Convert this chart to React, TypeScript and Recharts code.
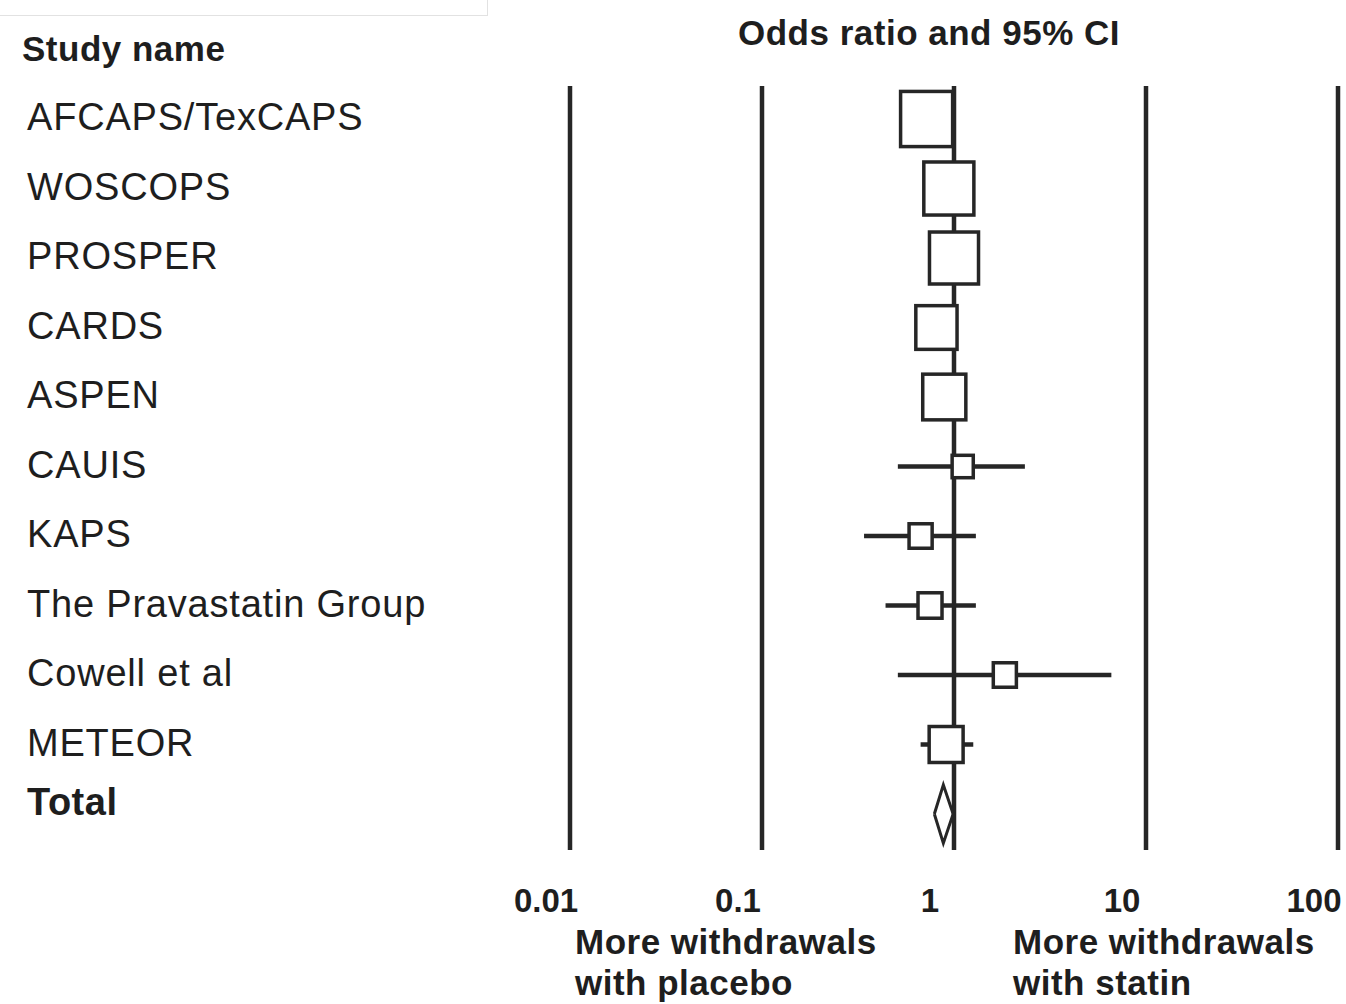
import React from 'react'
import {
  ScatterChart,
  Scatter,
  XAxis,
  YAxis,
  ErrorBar,
  ReferenceLine,
} from 'recharts'

const studies = [
  'AFCAPS/TexCAPS',
  'WOSCOPS',
  'PROSPER',
  'CARDS',
  'ASPEN',
  'CAUIS',
  'KAPS',
  'The Pravastatin Group',
  'Cowell et al',
  'METEOR',
]
const oddsRatios = [0.72, 0.94, 1.0, 0.81, 0.89, 1.11, 0.67, 0.75, 1.84, 0.91]
const lowerCI = [0.6, 0.8, 0.85, 0.66, 0.73, 0.51, 0.34, 0.44, 0.51, 0.67]
const upperCI = [0.86, 1.1, 1.18, 1.0, 1.1, 2.34, 1.3, 1.3, 6.6, 1.26]
// relative weights (%), drive the box size
const weights = [18.8, 17.4, 16.7, 11.8, 12.9, 3.1, 3.7, 4.0, 3.7, 8.0]

const totalOR = 0.88
const totalLower = 0.79
const totalUpper = 0.99

const xTicks = [0.01, 0.1, 1, 10, 100]
const xTickLabels = ['0.01', '0.1', '1', '10', '100']

const rowLabels = [...studies, 'Total']

const INK = '#262626'
const FONT = '"Liberation Sans", Arial, Helvetica, sans-serif'

const studyData = studies.map((name, i) => ({
  name,
  row: i,
  or: oddsRatios[i],
  err: [oddsRatios[i] - lowerCI[i], upperCI[i] - oddsRatios[i]],
  weight: weights[i],
}))

const totalRow = studies.length
const diamondData = [
  { or: totalLower, row: totalRow },
  { or: totalOR, row: totalRow - 0.42 },
  { or: totalUpper, row: totalRow },
  { or: totalOR, row: totalRow + 0.42 },
  { or: totalLower, row: totalRow },
]

const BoxShape = (props: any) => {
  const { cx, cy, payload } = props
  if (cx == null || cy == null) return <g />
  const s = 12 * Math.sqrt(payload.weight)
  const h = s * 1.06
  return (
    <rect
      x={cx - s / 2}
      y={cy - h / 2}
      width={s}
      height={h}
      fill="#fff"
      stroke={INK}
      strokeWidth={3.5}
    />
  )
}

const StudyTick = (props: any) => {
  const { y, payload } = props
  const idx = payload.value
  const isTotal = idx === totalRow
  return (
    <text
      x={27}
      y={isTotal ? y - 12 : y - 2}
      dominantBaseline="central"
      textAnchor="start"
      fontSize={38}
      letterSpacing={isTotal ? 0.5 : 0.8}
      fontWeight={isTotal ? 700 : 400}
      fontFamily={FONT}
      fill="#1e1e1e"
    >
      {rowLabels[idx]}
    </text>
  )
}

const OddsTick = (props: any) => {
  const { x, y, payload } = props
  const i = xTicks.indexOf(payload.value)
  return (
    <text
      x={x - 24}
      y={y + 42}
      dominantBaseline="central"
      textAnchor="middle"
      fontSize={33}
      fontWeight={700}
      fontFamily={FONT}
      fill="#1e1e1e"
    >
      {xTickLabels[i]}
    </text>
  )
}

const boldText: React.CSSProperties = {
  position: 'absolute',
  fontFamily: FONT,
  fontWeight: 700,
  fontSize: 35,
  lineHeight: '35px',
  letterSpacing: 0.5,
  color: '#1e1e1e',
  whiteSpace: 'nowrap',
}

const App = () => {
  return (
    <div
      style={{
        position: 'absolute',
        left: 0,
        top: 0,
        width: 1346,
        height: 1004,
        background: '#fff',
        overflow: 'hidden',
      }}
    >
      <div
        style={{
          position: 'absolute',
          left: 0,
          top: 0,
          width: 487,
          height: 15,
          borderRight: '1px solid #e2e2e2',
          borderBottom: '1px solid #e2e2e2',
        }}
      />
      <ScatterChart
        width={1346}
        height={1004}
        margin={{ top: 86, right: 8, bottom: 0, left: 0 }}
      >
        <XAxis
          type="number"
          dataKey="or"
          scale="log"
          domain={[0.01, 100]}
          ticks={xTicks}
          allowDataOverflow
          axisLine={false}
          tickLine={false}
          height={154}
          tick={OddsTick}
          interval={0}
        />
        <YAxis
          type="number"
          dataKey="row"
          domain={[-0.475, 10.518]}
          reversed
          ticks={rowLabels.map((_, i) => i)}
          interval={0}
          axisLine={false}
          tickLine={false}
          width={570}
          tick={StudyTick}
        />
        {xTicks.map((t) => (
          <ReferenceLine key={t} x={t} stroke={INK} strokeWidth={4.5} />
        ))}
        <Scatter
          data={studyData}
          shape={BoxShape}
          isAnimationActive={false}
        >
          <ErrorBar
            dataKey="err"
            direction="x"
            width={0}
            stroke={INK}
            strokeWidth={4.5}
          />
        </Scatter>
        <Scatter
          data={diamondData}
          line={{ stroke: INK, strokeWidth: 3 }}
          lineType="joint"
          fill="none"
          shape={() => <g />}
          isAnimationActive={false}
        />
      </ScatterChart>
      <div style={{ ...boldText, left: 22, top: 31 }}>Study name</div>
      <div style={{ ...boldText, left: 929, top: 15, transform: 'translateX(-50%)' }}>
        Odds ratio and 95% CI
      </div>
      <div style={{ ...boldText, left: 575, top: 924 }}>More withdrawals</div>
      <div style={{ ...boldText, left: 575, top: 965 }}>with placebo</div>
      <div style={{ ...boldText, left: 1013, top: 924 }}>More withdrawals</div>
      <div style={{ ...boldText, left: 1013, top: 965 }}>with statin</div>
    </div>
  )
}

export default App
